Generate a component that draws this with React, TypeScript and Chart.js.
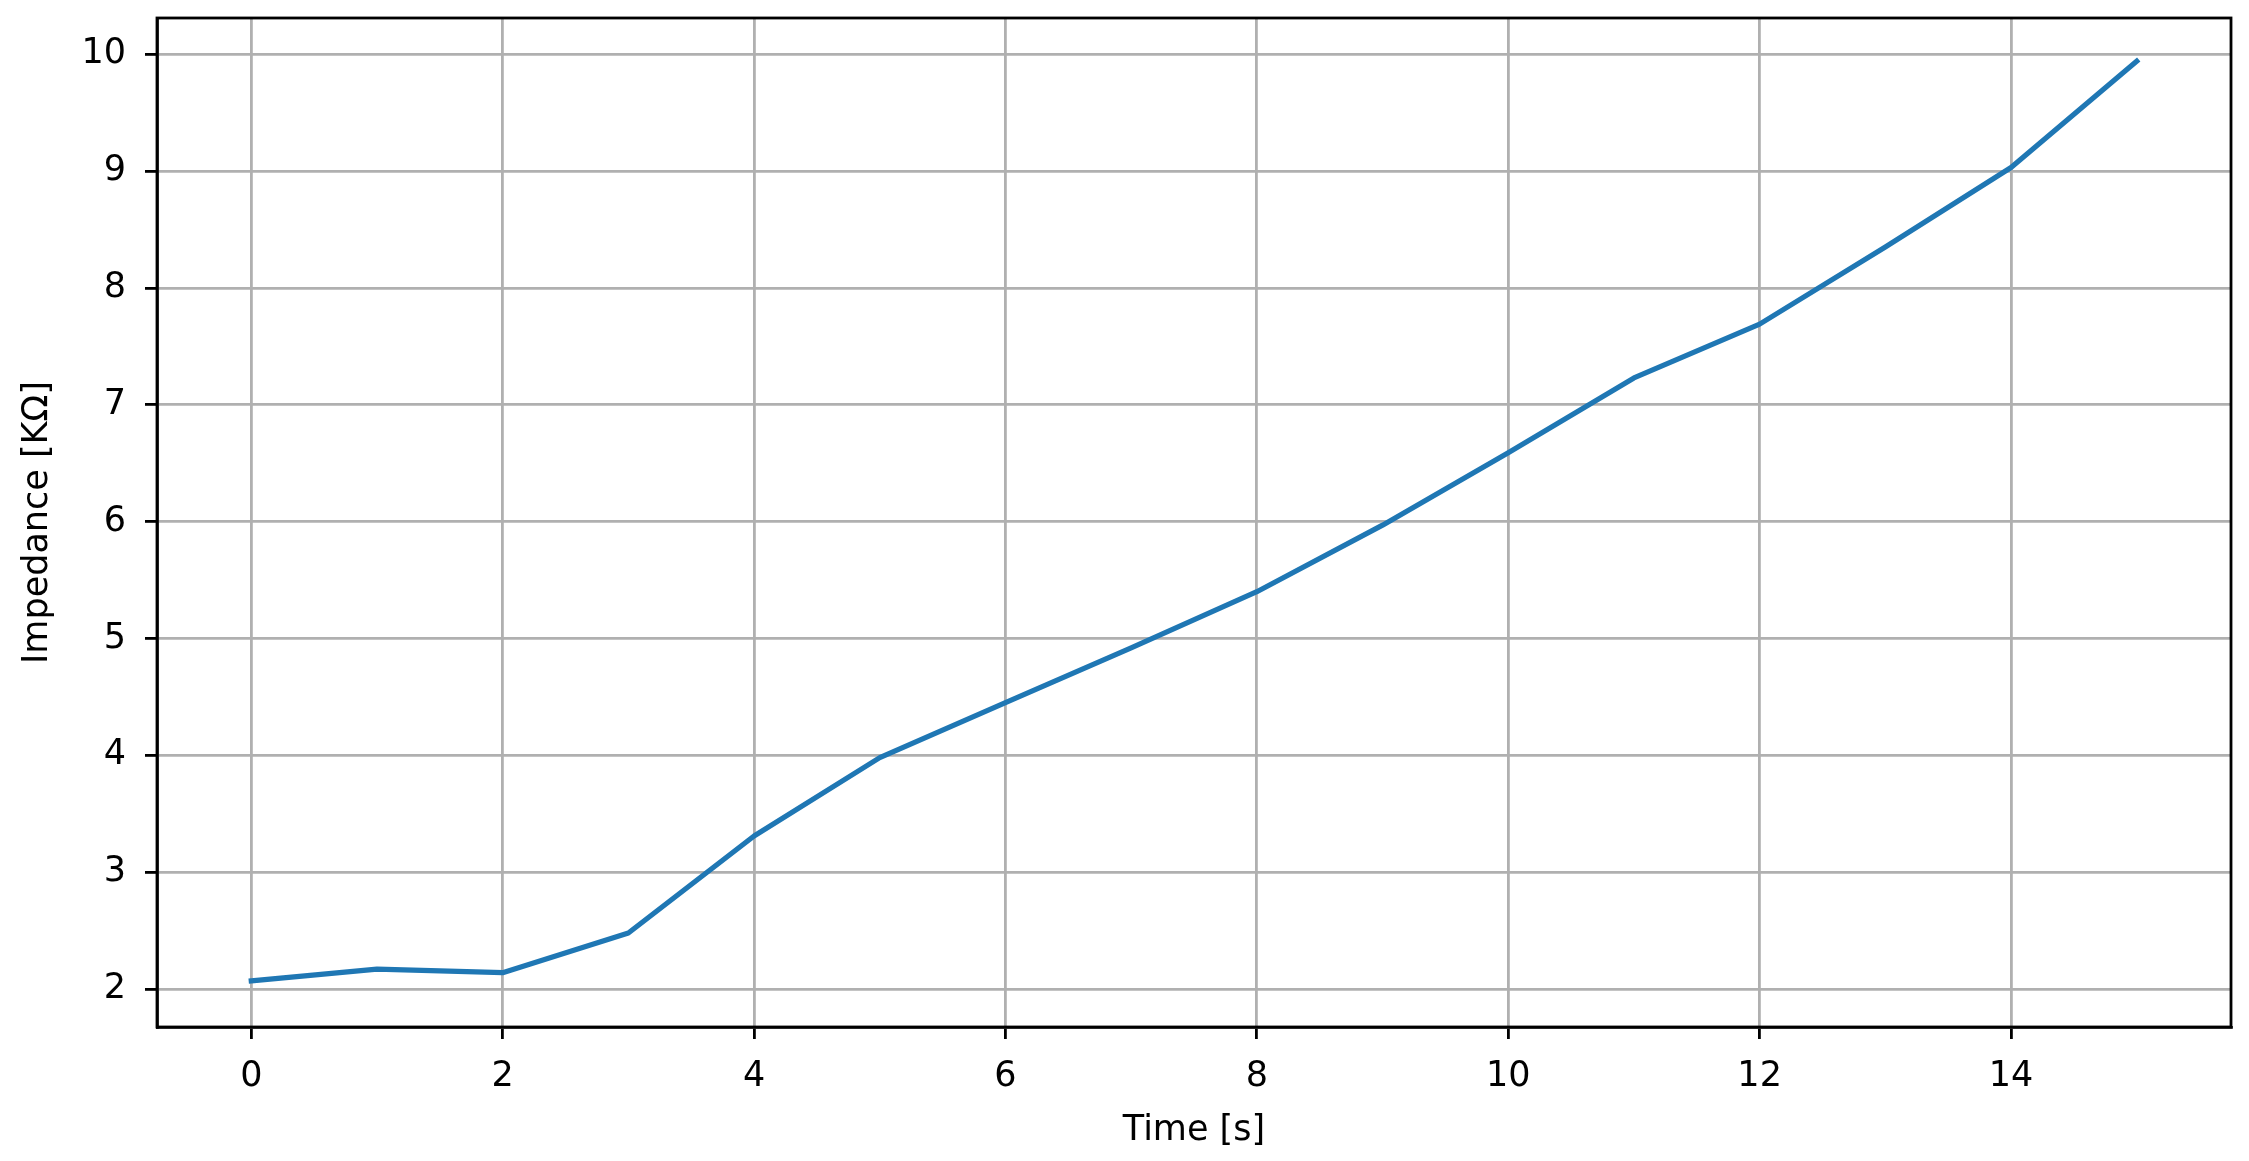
import Chart from "chart.js/auto";
import { useEffect, useRef } from "react";

// values
const times: number[] = [0, 1, 2, 3, 4, 5, 6, 7, 8, 9, 10, 11, 12, 13, 14, 15];
const impedance: number[] = [2.07, 2.17, 2.14, 2.48, 3.31, 3.98, 4.45, 4.92, 5.40, 5.97, 6.59, 7.23, 7.69, 8.35, 9.03, 9.94];
const xLimits: number[] = [-0.75, 15.75];
const yLimits: number[] = [1.675, 10.31];

const FONT = "'DejaVu Sans', sans-serif";
const W = 2249;
const H = 1161;

const frame = {
  id: 'frame',
  afterDraw(chart: any) {
    const { ctx, chartArea } = chart;
    ctx.save();
    ctx.strokeStyle = '#000000';
    ctx.lineWidth = 2.8;
    ctx.strokeRect(chartArea.left, chartArea.top, chartArea.right - chartArea.left, chartArea.bottom - chartArea.top);
    ctx.restore();
  },
};

const App = () => {
  const chartRef = useRef<HTMLCanvasElement | null>(null);

  useEffect(() => {
    if (!chartRef.current) return;
    const ctx = chartRef.current.getContext('2d');
    if (!ctx) return;

    const points = times.map((t, i) => ({ x: t, y: impedance[i] }));

    const myChart = new Chart(ctx, {
      type: 'line',
      plugins: [frame],
      data: {
        datasets: [{
          data: points,
          borderColor: '#1f77b4',
          borderWidth: 5.2,
          borderJoinStyle: 'round',
          borderCapStyle: 'square',
          pointRadius: 0,
          tension: 0,
          fill: false,
        }],
      },
      options: {
        responsive: false,
        animation: false,
        devicePixelRatio: 1,
        layout: { padding: { left: 0, right: 18, top: 18, bottom: 0 } },
        plugins: {
          legend: { display: false },
          tooltip: { enabled: false },
        },
        scales: {
          x: {
            type: 'linear',
            min: xLimits[0],
            max: xLimits[1],
            afterFit(scale: any) {
              scale.height = H - 1027;
              scale.paddingLeft = 0;
              scale.paddingRight = 0;
            },
            ticks: {
              stepSize: 2,
              includeBounds: false,
              autoSkip: false,
              maxRotation: 0,
              padding: 17,
              color: '#000000',
              font: { family: FONT, size: 35 },
            },
            grid: {
              color: '#b0b0b0',
              lineWidth: 2.8,
              tickLength: 12,
              tickColor: '#000000',
              tickWidth: 2.8,
            },
            border: { color: '#000000', width: 2.8 },
            title: {
              display: true,
              text: 'Time [s]',
              color: '#000000',
              font: { family: FONT, size: 35 },
              padding: { top: 0, bottom: 9 },
            },
          },
          y: {
            type: 'linear',
            min: yLimits[0],
            max: yLimits[1],
            afterFit(scale: any) {
              scale.width = 157;
              scale.paddingTop = 0;
              scale.paddingBottom = 0;
            },
            ticks: {
              stepSize: 1,
              includeBounds: false,
              autoSkip: false,
              padding: 19,
              color: '#000000',
              font: { family: FONT, size: 35 },
            },
            grid: {
              color: '#b0b0b0',
              lineWidth: 2.8,
              tickLength: 12,
              tickColor: '#000000',
              tickWidth: 2.8,
            },
            border: { color: '#000000', width: 2.8 },
            title: {
              display: true,
              text: 'Impedance [KΩ]',
              color: '#000000',
              font: { family: FONT, size: 35 },
              padding: { top: 17, bottom: 0 },
            },
          },
        },
      },
    });
    return () => myChart.destroy();
  }, []);

  return (
    <div style={{ position: 'fixed', left: 0, top: 0, width: W, height: H, background: '#ffffff' }}>
      <canvas ref={chartRef} width={W} height={H} />
    </div>
  );
};

export default App;
